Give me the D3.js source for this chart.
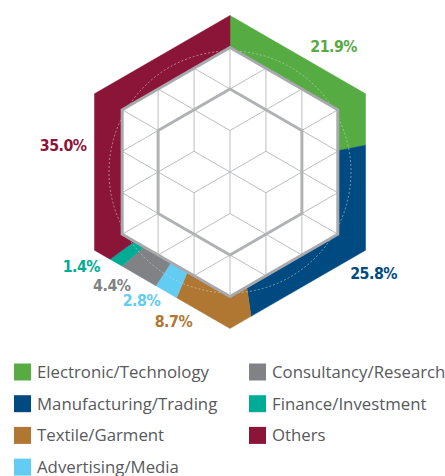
<!DOCTYPE html>
<html>
<head>
<meta charset="utf-8">
<script src="https://cdn.jsdelivr.net/npm/d3@7"></script>
<style>
  html, body { margin: 0; padding: 0; background: #fff; }
  svg { display: block; }
  .pct { font-family: "DejaVu Sans Condensed", "DejaVu Sans", sans-serif; font-stretch: condensed; font-weight: bold; font-size: 15.8px; letter-spacing: -0.5px; }
  .leg { font-family: "Open Sans", "Noto Sans", sans-serif; font-size: 16.8px; fill: #58595b; }
</style>
</head>
<body>
<svg id="chart" width="445" height="476"></svg>
<script>
// data
const categories = ['Electronic/Technology', 'Manufacturing/Trading', 'Textile/Garment',
  'Advertising/Media', 'Consultancy/Research', 'Finance/Investment', 'Others'];
const shares = [21.9, 25.8, 8.7, 2.8, 4.4, 1.4, 35.0];
const colours = ['#56ab43', '#004a82', '#b07732', '#62ccf3', '#808285', '#00ac96', '#8b1538'];

// where each % label sits: [angle in degrees clockwise from 12 o'clock, distance from centre]
const labelPlace = [[39.5, 163], [125.3, 176], [200.7, 160], [214.6, 156], [226.1, 164], [237.6, 176], [279.2, 169]];

const cx = 230, cy = 172;
const rOuter = 156.5, rInner = 124.5;

const svg = d3.select('#chart');

// distance from centre to a pointy-top hexagon edge at angle a
const hexR = (a, R) => {
	const seg = Math.PI / 3;
	const m = ((a % seg) + seg) % seg;
	return R * Math.cos(Math.PI / 6) / Math.cos(m - Math.PI / 6);
};
const polar = (a, r) => [cx + r * Math.sin(a), cy - r * Math.cos(a)];

// points along the hexagon from a0 to a1 (corners included)
function hexPath(a0, a1, R) {
	const pts = [polar(a0, hexR(a0, R))];
	const seg = Math.PI / 3;
	for (let k = Math.ceil(a0 / seg + 1e-9); k * seg < a1 - 1e-9; k++) {
		pts.push(polar(k * seg, R));
	}
	pts.push(polar(a1, hexR(a1, R)));
	return pts;
}

const pie = d3.pie().sort(null).value(d => d).startAngle(0).endAngle(2 * Math.PI);
const arcs = pie(shares);
const line = d3.line();

svg.append('g').selectAll('path').data(arcs)
	.enter().append('path')
		.attr('d', d => {
			const outer = hexPath(d.startAngle, d.endAngle, rOuter);
			const inner = hexPath(d.startAngle, d.endAngle, rInner).reverse();
			return line(outer.concat(inner)) + 'Z';
		})
		.attr('fill', (d, i) => colours[i])
		.attr('stroke', (d, i) => colours[i])
		.attr('stroke-width', 0.5);

// white inner hexagon
const hexCorners = R => d3.range(6).map(k => polar(k * Math.PI / 3, R));
svg.append('path')
	.attr('d', line(hexCorners(rInner)) + 'Z')
	.attr('fill', '#fff');

// faint dashed circle
svg.append('circle')
	.attr('cx', cx).attr('cy', cy).attr('r', 121)
	.attr('fill', 'none')
	.attr('stroke', '#d6d6d6')
	.attr('stroke-opacity', 0.7)
	.attr('stroke-width', 0.8)
	.attr('stroke-dasharray', '2,2');

// triangular / cube grid
const side = rInner / 3;
const dx = side * Math.sqrt(3) / 2, hs = side / 2;
const dist = (i, j) => Math.max(Math.abs(i), (Math.abs(i) + Math.abs(j)) / 2);
const colour3 = (i, j) => ((((j + 3 * i) / 2) % 3) + 3) % 3;
const edges = [];
for (let i = -3; i <= 3; i++) {
	for (let j = -6; j <= 6; j++) {
		if ((i + j) % 2 !== 0 || dist(i, j) > 3) continue;
		[[0, 2], [1, 1], [1, -1]].forEach(([di, dj]) => {
			const i2 = i + di, j2 = j + dj;
			if (dist(i2, j2) > 3) return;
			const d1 = dist(i, j), d2 = dist(i2, j2);
			if (d1 === 3 && d2 === 3) return;      // outer border
			if (d1 === 2 && d2 === 2) return;      // middle hexagon
			if (Math.max(d1, d2) <= 2) {
				const c1 = colour3(i, j), c2 = colour3(i2, j2);
				if (c1 !== 0 && c2 !== 0) return;  // cube faces
			}
			edges.push([[cx + i * dx, cy + j * hs], [cx + i2 * dx, cy + j2 * hs]]);
		});
	}
}
svg.append('g').selectAll('path').data(edges)
	.enter().append('path')
		.attr('d', d => line(d))
		.attr('stroke', '#bcbec0')
		.attr('stroke-width', 1)
		.attr('fill', 'none');

svg.append('path')
	.attr('d', line(hexCorners(rInner * 2 / 3)) + 'Z')
	.attr('fill', 'none')
	.attr('stroke', '#b1b2b5')
	.attr('stroke-width', 3);

svg.append('path')
	.attr('d', line(hexCorners(rInner)) + 'Z')
	.attr('fill', 'none')
	.attr('stroke', '#a7a9ac')
	.attr('stroke-width', 3);

// percentage labels
svg.append('g').selectAll('text').data(arcs)
	.enter().append('text')
		.attr('class', 'pct')
		.attr('x', (d, i) => polar(labelPlace[i][0] * Math.PI / 180, labelPlace[i][1])[0])
		.attr('y', (d, i) => polar(labelPlace[i][0] * Math.PI / 180, labelPlace[i][1])[1])
		.attr('dy', '0.36em')
		.attr('text-anchor', 'middle')
		.attr('fill', (d, i) => colours[i])
		.text(d => d.data.toFixed(1) + '%');

// legend
const legX = [14, 249], legY0 = 372, legStep = 31.7, box = 17;
const leg = svg.append('g').selectAll('g').data(categories)
	.enter().append('g')
		.attr('transform', (d, i) => `translate(${legX[i < 4 ? 0 : 1]},${legY0 + (i < 4 ? i : i - 4) * legStep})`);
leg.append('rect')
	.attr('x', 0).attr('y', -box / 2)
	.attr('width', box).attr('height', box)
	.attr('fill', (d, i) => colours[i]);
leg.append('text')
	.attr('class', 'leg')
	.attr('x', 23).attr('y', 0)
	.attr('dy', '0.35em')
	.text(d => d);
</script>
</body>
</html>
